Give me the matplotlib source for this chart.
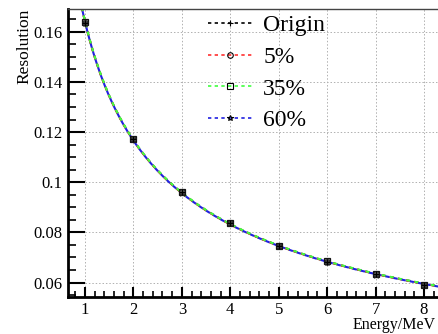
import numpy as np
import matplotlib.pyplot as plt
from matplotlib.lines import Line2D

plt.rcParams['font.family'] = ['Liberation Serif', 'DejaVu Serif']

# energies and measured resolution for each configuration
energy = np.array([1, 2, 3, 4, 5, 6, 7, 8])
res_origin = np.array([0.1636, 0.1172, 0.0960, 0.0837, 0.0746, 0.0684, 0.0633, 0.0590])
res_5 = np.array([0.1636, 0.1172, 0.0960, 0.0837, 0.0746, 0.0684, 0.0633, 0.0590])
res_35 = np.array([0.1638, 0.1174, 0.0961, 0.0838, 0.0747, 0.0685, 0.0634, 0.0591])
res_60 = np.array([0.1635, 0.1171, 0.0959, 0.0836, 0.0745, 0.0683, 0.0632, 0.0589])

labels = ['Origin', '5%', '35%', '60%']
line_colors = ['black', '#ff3030', '#40ff40', '#2020e0']
markers = ['+', 'o', 's', '*']

fig = plt.figure(figsize=(4.38, 3.34), dpi=100)
ax = fig.add_axes([68/438, 37/334, 370/438, 288/334])

# fit res = a/sqrt(E) + b for each series and draw the dashed fit curve
e_fine = np.linspace(0.6, 8.4, 300)
series = [res_origin, res_5, res_35, res_60]
offsets = [0, 0, 0, 2]
for res, col, off in zip(series, line_colors, offsets):
    A = np.vstack([1/np.sqrt(energy), np.ones_like(energy)]).T
    (a, b), *_ = np.linalg.lstsq(A, res, rcond=None)
    ax.plot(e_fine, a/np.sqrt(e_fine) + b, color=col, lw=1.5,
            linestyle=(off, (2, 2)), zorder=2)

# markers at measured points
ax.plot(energy, res_35, ls='none', marker='s', ms=5, mfc='#777777', mec='#111111', mew=0.9, zorder=3)
ax.plot(energy, res_5, ls='none', marker='o', ms=4, mfc='none', mec='#222222', mew=0.6, zorder=3)
ax.plot(energy, res_60, ls='none', marker='*', ms=5, mfc='none', mec='#222222', mew=0.5, zorder=3)
ax.plot(energy, res_origin, ls='none', marker='+', ms=5, color='black', mew=0.8, zorder=4)

ax.set_xlim(0.649, 8.289)
ax.set_ylim(0.05425, 0.16906)
ax.set_xticks(np.arange(1, 9))
ax.set_xticks(np.arange(0.8, 8.3, 0.2), minor=True)
ax.set_yticks([0.06, 0.08, 0.1, 0.12, 0.14, 0.16])
ax.set_yticklabels(['0.06', '0.08', '0.1', '0.12', '0.14', '0.16'])
ax.set_yticks(np.arange(0.055, 0.169, 0.005), minor=True)

ax.grid(True, which='major', color='#b0b0b0', linestyle=(0, (1.5, 2)), lw=0.7)
ax.tick_params(axis='y', which='major', direction='in', length=12, width=1.5, labelsize=12, pad=4)
ax.tick_params(axis='y', which='minor', direction='in', length=6, width=1.2)
ax.tick_params(axis='x', which='major', direction='in', length=7, width=1.5, labelsize=12, pad=3.5)
ax.tick_params(axis='x', which='minor', direction='in', length=4, width=1.2)

ax.spines['left'].set_linewidth(2)
ax.spines['bottom'].set_linewidth(2)
ax.spines['top'].set_linewidth(1)
ax.spines['top'].set_color('#444444')
ax.spines['right'].set_visible(False)

ax.set_ylabel('Resolution', fontsize=12.5, loc='top')
ax.yaxis.set_label_coords(-0.097, 1.0)
fig.text(353/438, 1/334, 'Energy/MeV', fontsize=11.5, ha='left', va='bottom')

handles = [Line2D([], [], color=c, ls=(0, (2, 2)), lw=1.2, marker=m, ms=4,
                  mfc='none', mec='black', mew=0.8)
           for c, m in zip(line_colors, markers)]
fig.legend(handles, labels, loc='upper left', bbox_to_anchor=(196/438, 1 - 3/334),
           frameon=False, fontsize=17, handlelength=1.9, handletextpad=0.45,
           labelspacing=0.43, borderpad=0)

fig.savefig('out.png', dpi=100)
